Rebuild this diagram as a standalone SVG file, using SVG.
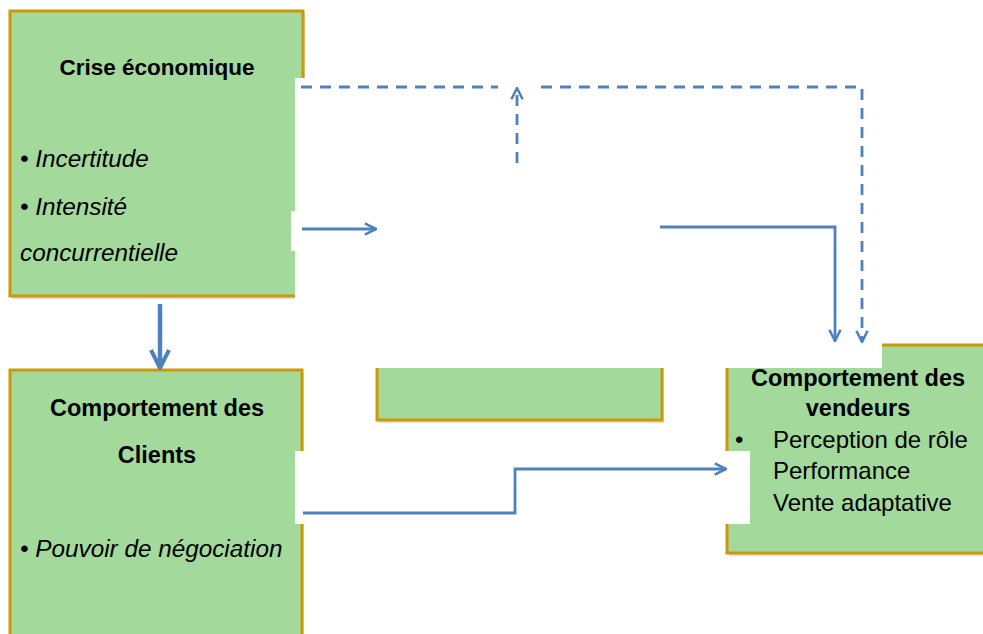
<svg xmlns="http://www.w3.org/2000/svg" width="983" height="634" viewBox="0 0 983 634">
<style>
.box{fill:#a3d99a;stroke:#cc9a06;stroke-width:3}
.sh{fill:#000;opacity:0.13}
.occ{fill:#fff}
.t{font-family:"Liberation Sans",Arial,sans-serif;fill:#000}
.b{font-weight:bold;font-size:22.5px}
.i{font-style:italic;font-size:24.3px}
.r{font-size:24px}
.ln{fill:none;stroke:#4f81bd;stroke-width:2.8}
.dash{stroke-dasharray:11 8}
</style>
<defs>
<marker id="ah" viewBox="0 0 10 10" refX="9" refY="5" markerWidth="5" markerHeight="5" orient="auto" markerUnits="strokeWidth">
<path d="M1,1 L9,5 L1,9" fill="none" stroke="#4f81bd" stroke-width="1.8"/>
</marker>
</defs>
<rect width="983" height="634" fill="#fff"/>
<g id="crise">
<rect class="sh" x="12" y="14" width="293" height="285"/>
<rect class="box" x="10" y="11" width="293" height="285"/>
<text class="t b" x="157" y="75" text-anchor="middle">Crise économique</text>
<text class="t i" x="20" y="167">• Incertitude</text>
<text class="t i" x="20" y="215">• Intensité</text>
<text class="t i" x="20" y="261">concurrentielle</text>
</g>
<g id="clients">
<rect class="sh" x="12" y="373" width="292" height="280"/>
<rect class="box" x="10" y="370" width="292" height="280"/>
<text class="t b" x="157" y="416" text-anchor="middle" style="font-size:23.5px">Comportement des</text>
<text class="t b" x="157" y="463" text-anchor="middle" style="font-size:23.5px">Clients</text>
<text class="t i" x="20" y="557">• Pouvoir de négociation</text>
</g>
<g id="milieu">
<rect class="sh" x="379" y="303" width="285" height="120"/>
<rect class="box" x="377" y="300" width="285" height="120"/>
</g>
<g id="vendeurs">
<rect class="sh" x="729" y="348" width="270" height="208"/>
<rect class="box" x="727" y="345" width="270" height="208"/>
<text class="t b" x="858" y="386" text-anchor="middle" style="font-size:23.5px">Comportement des</text>
<text class="t b" x="858" y="416" text-anchor="middle" style="font-size:23.5px">vendeurs</text>
<text class="t r" x="735" y="448">•</text>
<text class="t r" x="773" y="448">Perception de rôle</text>
<text class="t r" x="773" y="479">Performance</text>
<text class="t r" x="773" y="511">Vente adaptative</text>
</g>
<g id="masques">
<rect class="occ" x="295" y="78" width="587" height="290"/>
<rect class="occ" x="291" y="211" width="10" height="40"/>
<rect class="occ" x="295" y="451" width="455" height="73"/>
</g>
<g id="connecteurs">
<line class="ln" x1="160" y1="304" x2="160" y2="368" style="stroke-width:4.5" marker-end="url(#ah)"/>
<line class="ln" x1="302" y1="229" x2="376" y2="229" marker-end="url(#ah)"/>
<polyline class="ln" points="660,227 835,227 835,341" marker-end="url(#ah)"/>
<polyline class="ln" points="303,513 515,513 515,469 726,469" marker-end="url(#ah)"/>
<line class="ln dash" x1="301" y1="87" x2="498" y2="87"/>
<polyline class="ln dash" points="541,87 862,87 862,342" marker-end="url(#ah)"/>
<line class="ln dash" x1="517" y1="163" x2="517" y2="88" marker-end="url(#ah)"/>
</g>
</svg>
